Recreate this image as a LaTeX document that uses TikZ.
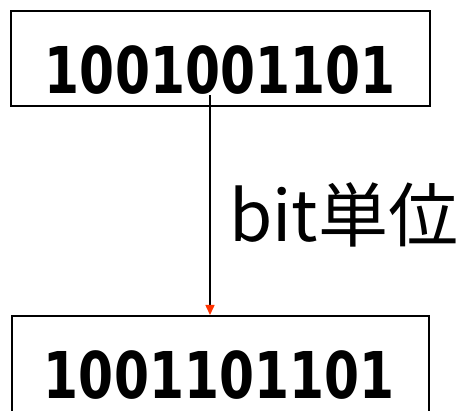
\documentclass[tikz,border=0pt]{standalone}
\usepackage{fontspec}
\newfontfamily\digitfont{DejaVu Sans}
\newfontfamily\labelfont{Noto Sans CJK JP}
\usetikzlibrary{arrows.meta}
\definecolor{tipred}{RGB}{255,51,0}
\newcommand{\bitrow}[1]{\scalebox{0.78}[1]{#1}}
\tikzset{
  bitbox/.style={draw, line width=2pt, inner sep=0pt, anchor=south west},
  bits/.style={font=\digitfont\bfseries\fontsize{64.5}{64.5}\selectfont, inner sep=0pt, anchor=base},
  link/.style={line width=1.5pt, -{Triangle[length=10pt, width=9pt, color=tipred, fill=tipred]}}
}
\begin{document}
\begin{tikzpicture}[x=1pt, y=1pt]
  \useasboundingbox (0,0) rectangle (465,411);
  % upper register
  \node[bitbox, minimum width=419pt, minimum height=95pt] (top) at (10,304) {};
  \node[bits] (topbits) at (220,317) {\bitrow{1001001101}};
  % lower register (runs past the lower edge)
  \node[bitbox, minimum width=417pt, minimum height=110pt] (bot) at (11,-16) {};
  \node[bits] (botbits) at (219,12) {\bitrow{1001101101}};
  % bitwise step
  \coordinate (src) at (210,316);
  \draw[link] (src) -- (src |- bot.north);
  \node[font=\labelfont\fontsize{70}{70}\selectfont, inner sep=0pt, anchor=base west] (lbl) at (229,169) {bit単位};
\end{tikzpicture}
\end{document}
